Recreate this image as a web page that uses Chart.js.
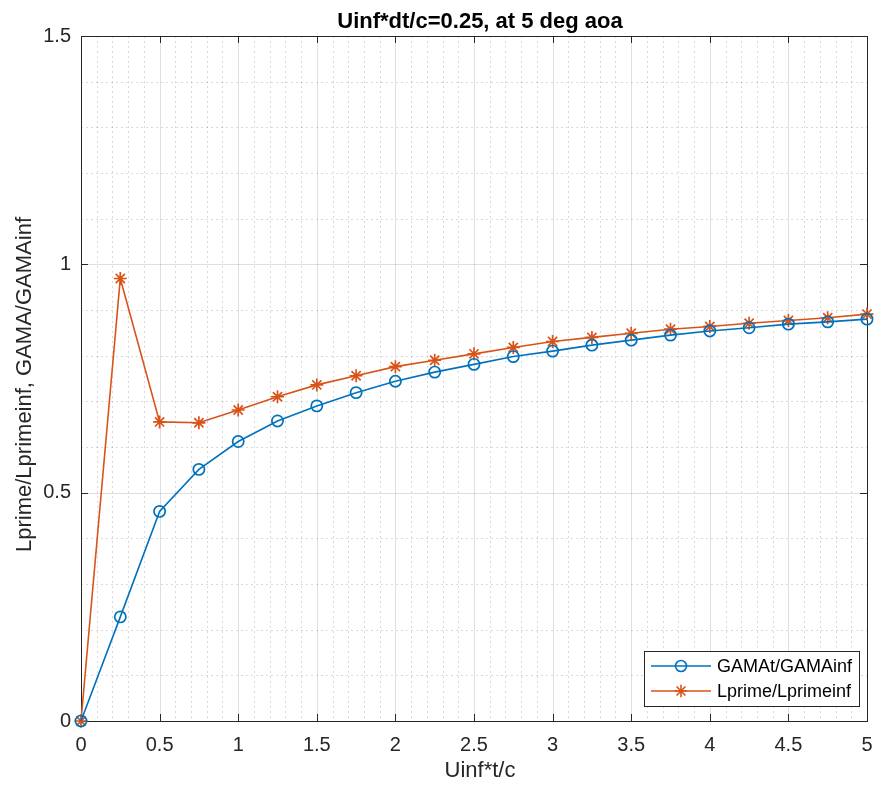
<!DOCTYPE html>
<html>
<head>
<meta charset="utf-8">
<script src="https://cdn.jsdelivr.net/npm/chart.js@4.4.1/dist/chart.umd.min.js"></script>
<style>
  html, body { margin: 0; padding: 0; background: #fff; }
  #wrap { width: 876px; height: 787px; }
</style>
</head>
<body>
<div id="wrap"><canvas id="lift-chart"></canvas></div>
<script>
// non-dimensional time Uinf*t/c, step 0.25
const timeSteps = [0, 0.25, 0.5, 0.75, 1, 1.25, 1.5, 1.75, 2, 2.25, 2.5, 2.75, 3, 3.25, 3.5, 3.75, 4, 4.25, 4.5, 4.75, 5]
const gamaRatio = [0, 0.228, 0.459, 0.551, 0.612, 0.657, 0.690, 0.719, 0.744, 0.764, 0.781, 0.798, 0.810, 0.823, 0.834, 0.845, 0.854, 0.861, 0.869, 0.874, 0.880]
const liftRatio = [0, 0.969, 0.655, 0.653, 0.681, 0.710, 0.736, 0.756, 0.776, 0.790, 0.804, 0.818, 0.831, 0.840, 0.849, 0.858, 0.864, 0.871, 0.877, 0.883, 0.891]

const xTicks = [0, 0.5, 1, 1.5, 2, 2.5, 3, 3.5, 4, 4.5, 5]
const yTicks = [0, 0.5, 1, 1.5]
const minorStep = 0.1

const titleText = 'Uinf*dt/c=0.25, at 5 deg aoa'
const xLabel = 'Uinf*t/c'
const yLabel = 'Lprime/Lprimeinf, GAMA/GAMAinf'
const seriesNames = ['GAMAt/GAMAinf', 'Lprime/Lprimeinf']

const BLUE = '#0072BD'
const ORANGE = '#D95319'
const INK = '#262626'
const FONT = "'Liberation Sans', Arial, Helvetica, sans-serif"

Chart.defaults.font.family = FONT

function px(v) { return Math.round(v) + 0.5 }

function drawStar(ctx, x, y, r) {
  ctx.beginPath()
  ctx.moveTo(x - r, y); ctx.lineTo(x + r, y)
  ctx.moveTo(x, y - r); ctx.lineTo(x, y + r)
  const d = r * Math.SQRT1_2
  ctx.moveTo(x - d, y - d); ctx.lineTo(x + d, y + d)
  ctx.moveTo(x - d, y + d); ctx.lineTo(x + d, y - d)
  ctx.stroke()
}

// grid, box and inward ticks drawn matlab-style
const matlabAxes = {
  id: 'matlabAxes',
  beforeDatasetsDraw(chart) {
    const { ctx, chartArea: a, scales } = chart
    const xs = scales.x, ys = scales.y
    ctx.save()
    ctx.lineWidth = 1

    // minor grid (dotted)
    ctx.strokeStyle = 'rgba(38,38,38,0.17)'
    ctx.setLineDash([2, 3])
    ctx.beginPath()
    for (let i = 1; i < Math.round(xs.max / minorStep); i++) {
      const v = i * minorStep
      if (Math.abs(v / 0.5 - Math.round(v / 0.5)) < 1e-6) continue
      const x = px(xs.getPixelForValue(v))
      ctx.moveTo(x, a.top); ctx.lineTo(x, a.bottom)
    }
    for (let i = 1; i < Math.round(ys.max / minorStep); i++) {
      const v = i * minorStep
      if (Math.abs(v / 0.5 - Math.round(v / 0.5)) < 1e-6) continue
      const y = px(ys.getPixelForValue(v))
      ctx.moveTo(a.left, y); ctx.lineTo(a.right, y)
    }
    ctx.stroke()

    // major grid
    ctx.setLineDash([])
    ctx.strokeStyle = 'rgba(38,38,38,0.15)'
    ctx.beginPath()
    xTicks.forEach(v => {
      const x = px(xs.getPixelForValue(v))
      ctx.moveTo(x, a.top); ctx.lineTo(x, a.bottom)
    })
    yTicks.forEach(v => {
      const y = px(ys.getPixelForValue(v))
      ctx.moveTo(a.left, y); ctx.lineTo(a.right, y)
    })
    ctx.stroke()

    // axes box
    ctx.strokeStyle = INK
    ctx.strokeRect(px(a.left), px(a.top), Math.round(a.right - a.left), Math.round(a.bottom - a.top))

    // inward tick marks
    const tl = 7
    ctx.beginPath()
    xTicks.forEach(v => {
      const x = px(xs.getPixelForValue(v))
      ctx.moveTo(x, a.bottom); ctx.lineTo(x, a.bottom - tl)
      ctx.moveTo(x, a.top); ctx.lineTo(x, a.top + tl)
    })
    yTicks.forEach(v => {
      const y = px(ys.getPixelForValue(v))
      ctx.moveTo(a.left, y); ctx.lineTo(a.left + tl, y)
      ctx.moveTo(a.right, y); ctx.lineTo(a.right - tl, y)
    })
    ctx.stroke()
    ctx.restore()
  },
  afterDatasetsDraw(chart) {
    const { ctx, chartArea: a } = chart
    const cx = (a.left + a.right) / 2 + 6
    ctx.save()

    // title
    ctx.font = 'bold 22px ' + FONT
    ctx.textAlign = 'center'
    ctx.textBaseline = 'alphabetic'
    ctx.fillStyle = '#000'
    ctx.fillText(titleText, cx, a.top - 8)

    // axis labels
    ctx.fillStyle = INK
    ctx.font = '22px ' + FONT
    ctx.fillText(xLabel, cx, a.bottom + 56)
    ctx.save()
    ctx.translate(31, (a.top + a.bottom) / 2 + 6)
    ctx.rotate(-Math.PI / 2)
    ctx.fillText(yLabel, 0, 0)
    ctx.restore()

    // legend box in the lower right corner
    const w = 215, h = 55
    const lx = Math.round(a.right - 8 - w), ly = Math.round(a.bottom - 15 - h)
    ctx.fillStyle = '#fff'
    ctx.fillRect(lx, ly, w, h)
    ctx.strokeStyle = INK
    ctx.lineWidth = 1
    ctx.strokeRect(lx + 0.5, ly + 0.5, w, h)

    const rows = [
      { name: seriesNames[0], color: BLUE, marker: 'circle' },
      { name: seriesNames[1], color: ORANGE, marker: 'star' }
    ]
    ctx.font = '18px ' + FONT
    ctx.textAlign = 'left'
    ctx.textBaseline = 'middle'
    rows.forEach((r, i) => {
      const y = ly + 15 + i * 25
      const x0 = lx + 7, x1 = lx + 67, xm = (x0 + x1) / 2
      ctx.strokeStyle = r.color
      ctx.lineWidth = 1.4
      ctx.beginPath(); ctx.moveTo(x0, y); ctx.lineTo(x1, y); ctx.stroke()
      ctx.lineWidth = 1.6
      if (r.marker === 'circle') {
        ctx.beginPath(); ctx.arc(xm, y, 5.5, 0, Math.PI * 2); ctx.stroke()
      } else {
        drawStar(ctx, xm, y, 6.3)
      }
      ctx.fillStyle = '#000'
      ctx.fillText(r.name, lx + 73, y + 1)
    })
    ctx.restore()
  }
}

const lineConfig = {
  type: 'line',
  data: {
    labels: timeSteps,
    datasets: [
      {
        label: seriesNames[0],
        data: timeSteps.map((t, i) => ({ x: t, y: gamaRatio[i] })),
        borderColor: BLUE,
        borderWidth: 1.6,
        pointStyle: 'circle',
        pointRadius: 5.6,
        pointBorderWidth: 1.7,
        pointBorderColor: BLUE,
        pointBackgroundColor: 'rgba(0,0,0,0)',
        tension: 0,
        clip: false,
      },
      {
        label: seriesNames[1],
        data: timeSteps.map((t, i) => ({ x: t, y: liftRatio[i] })),
        borderColor: ORANGE,
        borderWidth: 1.6,
        pointStyle: 'star',
        pointRadius: 6.5,
        pointBorderWidth: 1.7,
        pointBorderColor: ORANGE,
        pointBackgroundColor: ORANGE,
        tension: 0,
        clip: false,
      },
    ],
  },
  options: {
    responsive: true,
    maintainAspectRatio: false,
    animation: false,
    layout: { padding: { top: 36, right: 0, left: 0, bottom: 0 } },
    plugins: {
      legend: { display: false },
      tooltip: { enabled: false },
    },
    scales: {
      x: {
        type: 'linear',
        min: 0,
        max: 5,
        grid: { display: false, drawTicks: false },
        border: { display: false },
        afterBuildTicks: s => { s.ticks = xTicks.map(v => ({ value: v })) },
        afterFit: s => { s.height = 66; s.paddingLeft = 0; s.paddingRight = 9 },
        ticks: {
          color: INK,
          padding: 12,
          maxRotation: 0,
          autoSkip: false,
          font: { size: 20 },
          callback: v => String(v),
        },
      },
      y: {
        type: 'linear',
        min: 0,
        max: 1.5,
        grid: { display: false, drawTicks: false },
        border: { display: false },
        afterBuildTicks: s => { s.ticks = yTicks.map(v => ({ value: v })) },
        afterFit: s => { s.width = 81; s.paddingTop = 0; s.paddingBottom = 0 },
        ticks: {
          color: INK,
          padding: 10,
          autoSkip: false,
          font: { size: 20 },
          callback: v => String(v),
        },
      },
    },
  },
  plugins: [matlabAxes],
}

const liftCanvas = document.getElementById('lift-chart')
window.liftChart = new Chart(liftCanvas, lineConfig)
</script>
</body>
</html>
